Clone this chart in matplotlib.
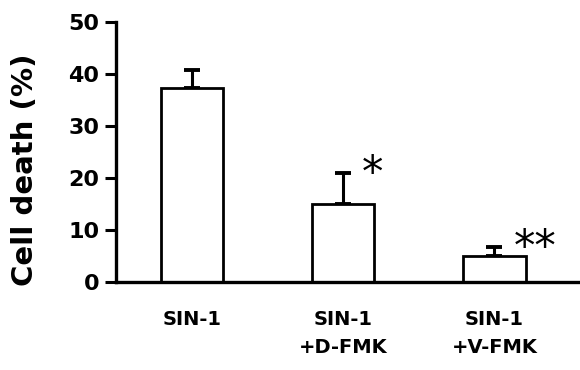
import numpy as np
import matplotlib
matplotlib.use("Agg")
import matplotlib.pyplot as plt

# Data
groups = ["SIN-1", "SIN-1\n+D-FMK", "SIN-1\n+V-FMK"]
cell_death = [37.3, 15.0, 4.9]
sem = [3.5, 6.0, 1.9]
marks = ["", "*", "**"]
y_ticks = [0, 10, 20, 30, 40, 50]

plt.rcParams['font.family'] = ['DejaVu Sans']

fig = plt.figure(figsize=(5.8, 3.7), dpi=100)
ax = fig.add_axes([0.2, 0.238, 0.8, 0.7025])

x = np.arange(len(groups))
ax.bar(x, cell_death, width=0.41, color="white", edgecolor="black", linewidth=2.0, zorder=2)
ax.errorbar(x, cell_death, yerr=[np.zeros(len(sem)), sem], fmt="none",
            ecolor="black", elinewidth=2.2, capsize=5.5, capthick=2.8, zorder=1)

# significance marks, just right of each error bar
for xi, v, e, m in zip(x, cell_death, sem, marks):
    if m:
        ax.text(xi + 0.125, v + e - 0.2, m, fontsize=31, ha="left", va="center")

ax.set_xlim(-0.5, 2.565)
ax.set_ylim(0, 50)
ax.set_yticks(y_ticks)
ax.set_xticks(x)
ax.set_xticklabels(groups, fontsize=14, fontweight="bold", linespacing=1.65)
ax.tick_params(axis="x", length=0, pad=20)
ax.tick_params(axis="y", direction="out", length=8, width=2.2, labelsize=16, pad=4)
for lab in ax.get_yticklabels():
    lab.set_fontweight("bold")

ax.set_ylabel("Cell death (%)", fontsize=21, fontweight="bold")
ax.yaxis.set_label_coords(-0.165, 0.43)

ax.spines["top"].set_visible(False)
ax.spines["right"].set_visible(False)
ax.spines["left"].set_linewidth(2.4)
ax.spines["bottom"].set_linewidth(2.4)

fig.savefig("out.png", dpi=100)
